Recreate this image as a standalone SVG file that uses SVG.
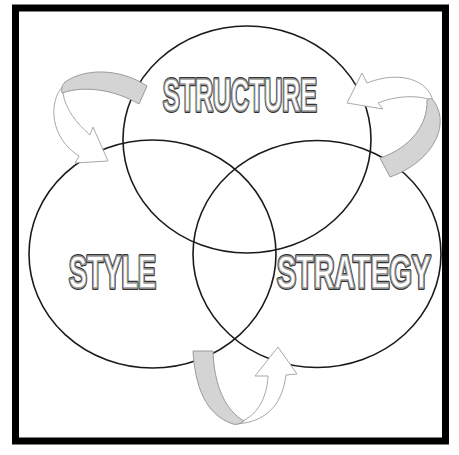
<svg xmlns="http://www.w3.org/2000/svg" width="459" height="455" viewBox="0 0 459 455">
<style>
.ring{fill:none;stroke:#1a1a1a;stroke-width:1.6}
.band{fill:#d4d4d4;stroke:#9a9a9a;stroke-width:1}
.arr{fill:#ffffff;stroke:#a8a8a8;stroke-width:1}
.lblo{font-family:"Liberation Sans",Arial,sans-serif;font-weight:bold;font-size:46px;fill:#333;stroke:#333;stroke-width:4;stroke-linejoin:round}
.lbli{font-family:"Liberation Sans",Arial,sans-serif;font-weight:bold;font-size:46px;fill:#fff;stroke:#9a9a9a;stroke-width:1.6;stroke-linejoin:round}
</style>
<rect x="0" y="0" width="459" height="455" fill="#fff"/>
<rect x="15.5" y="8" width="430" height="433" fill="none" stroke="#000" stroke-width="7"/>
<g id="circle-structure"><ellipse class="ring" cx="247" cy="139.5" rx="124" ry="113.5"/></g>
<g id="circle-style"><ellipse class="ring" cx="152.5" cy="254" rx="123.5" ry="114"/></g>
<g id="circle-strategy"><ellipse class="ring" cx="317" cy="254" rx="124" ry="113.5"/></g>
<g id="connectors">
  <g id="arrow-structure-style">
    <path class="arr" d="M63,86 C48,102 50,138 79,156 L75,163 L108,161 L93,127 L90,135 C76,123 65,108 63,93 Z"/>
    <path class="band" d="M65,82 C85,68 120,68 147,86 L139,104 C115,90 85,85 62,93 C61,89 62,85 65,82 Z"/>
  </g>
  <g id="arrow-strategy-structure">
    <path class="arr" d="M433,101 C428,80 400,70 367,83 L362,73 L347,103 L383,109 L378,103 C395,96 415,95 428,99 Z"/>
    <path class="band" d="M427,100 C428,125 410,148 380,158 L390,177 C432,162 452,125 433,100 C431,98 429,98 427,100 Z"/>
  </g>
  <g id="arrow-style-strategy">
    <path class="arr" d="M243,421 C260,412 267,395 268,376 L255,376 L278,347 L297,374 L286,375 C283,400 270,422 236,424 Z"/>
    <path class="band" d="M193,351 L213,351 C214,385 225,410 244,421 C240,424 236,425 233,424 C205,415 195,385 193,351 Z"/>
  </g>
</g>
<g id="label-structure">
  <text class="lblo" x="163" y="111" textLength="154" lengthAdjust="spacingAndGlyphs">STRUCTURE</text>
  <text class="lbli" x="163" y="111" textLength="154" lengthAdjust="spacingAndGlyphs">STRUCTURE</text>
</g>
<g id="label-style">
  <text class="lblo" x="69" y="288" textLength="87" lengthAdjust="spacingAndGlyphs">STYLE</text>
  <text class="lbli" x="69" y="288" textLength="87" lengthAdjust="spacingAndGlyphs">STYLE</text>
</g>
<g id="label-strategy">
  <text class="lblo" x="277" y="288" textLength="154" lengthAdjust="spacingAndGlyphs">STRATEGY</text>
  <text class="lbli" x="277" y="288" textLength="154" lengthAdjust="spacingAndGlyphs">STRATEGY</text>
</g>
</svg>
